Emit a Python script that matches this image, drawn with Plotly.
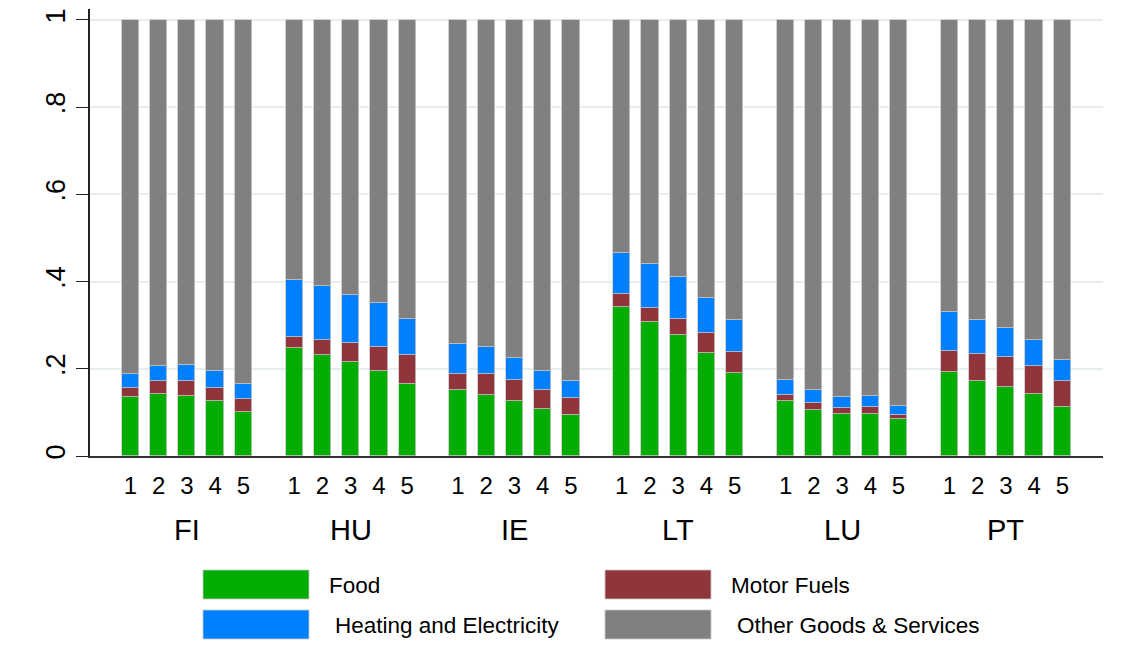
import plotly.graph_objects as go

countries = ["FI", "HU", "IE", "LT", "LU", "PT"]
quintiles = [1, 2, 3, 4, 5]

# expenditure shares by income quintile, per country (stacked from the bottom)
food = [
    [0.135, 0.142, 0.137, 0.125, 0.102],
    [0.248, 0.231, 0.216, 0.194, 0.165],
    [0.152, 0.141, 0.125, 0.107, 0.093],
    [0.341, 0.308, 0.277, 0.236, 0.190],
    [0.125, 0.106, 0.096, 0.097, 0.084],
    [0.192, 0.171, 0.159, 0.143, 0.112],
]
motor_fuels = [
    [0.022, 0.029, 0.034, 0.032, 0.029],
    [0.024, 0.034, 0.043, 0.055, 0.067],
    [0.037, 0.047, 0.049, 0.044, 0.040],
    [0.030, 0.032, 0.038, 0.045, 0.049],
    [0.015, 0.016, 0.014, 0.015, 0.010],
    [0.049, 0.063, 0.067, 0.064, 0.059],
]
heating = [
    [0.031, 0.035, 0.038, 0.038, 0.035],
    [0.132, 0.125, 0.111, 0.102, 0.082],
    [0.067, 0.061, 0.051, 0.044, 0.040],
    [0.094, 0.100, 0.095, 0.081, 0.073],
    [0.035, 0.029, 0.025, 0.025, 0.021],
    [0.090, 0.077, 0.067, 0.059, 0.048],
]

group_step = 5.8
x, ticktext = [], []
for g, c in enumerate(countries):
    for q in quintiles:
        x.append(g * group_step + q)
        ticktext.append(str(q))

def flat(rows):
    return [v for r in rows for v in r]

f, m, h = flat(food), flat(motor_fuels), flat(heating)
other = [1 - a - b - c for a, b, c in zip(f, m, h)]

series = [
    ("Food", f, "#00ad00"),
    ("Motor Fuels", m, "#90353b"),
    ("Heating and Electricity", h, "#0080ff"),
    ("Other Goods & Services", other, "#808080"),
]

fig = go.Figure()
for name, vals, col in series:
    fig.add_trace(go.Bar(
        x=x, y=vals, name=name, width=0.61,
        marker=dict(color=col, line=dict(color="rgba(200,200,200,0.8)", width=1)),
        showlegend=False,
    ))

font = "Liberation Sans, Arial, sans-serif"
fig.update_layout(
    barmode="stack",
    width=1125, height=668,
    margin=dict(l=82, r=30, t=1, b=220),
    plot_bgcolor="white", paper_bgcolor="white",
    font=dict(family=font, color="black"),
    bargap=0,
)
fig.update_xaxes(
    range=[-0.43, 35.44], tickvals=x, ticktext=ticktext,
    tickfont=dict(size=24), showgrid=False, ticks="", ticklabelstandoff=7,
    showline=True, linecolor="#333", linewidth=1.5, zeroline=False,
)
fig.update_yaxes(
    range=[0, 1.025], tickvals=[0, 0.2, 0.4, 0.6, 0.8, 1],
    ticktext=["0", ".2", ".4", ".6", ".8", "1"], tickangle=-90,
    tickfont=dict(size=27), ticks="outside", ticklen=12, tickcolor="#222",
    showline=True, linecolor="#222", linewidth=1.5,
    showgrid=True, gridcolor="#e6eef1", gridwidth=1.5, zeroline=False,
)

# plot area in page pixels (page has an 8px body margin)
PX0, PW, PY1, PH = 90, 1013, 456, 447

def px(v):
    return (v - PX0) / PW

def py(v):
    return (PY1 - v) / PH

# country labels under each group of quintiles
for g, c in enumerate(countries):
    fig.add_annotation(
        x=g * group_step + 3, y=py(530), xref="x", yref="paper",
        text=c, showarrow=False, font=dict(size=29), yanchor="middle",
    )

# legend drawn Stata-style with large swatches
legend_items = [
    ("Food", "#00ad00", 203, 570, 327),
    ("Motor Fuels", "#90353b", 605, 570, 729),
    ("Heating and Electricity", "#0080ff", 203, 610, 333),
    ("Other Goods & Services", "#808080", 605, 610, 735),
]
for label, col, sx, sy, tx in legend_items:
    fig.add_shape(
        type="rect", xref="paper", yref="paper",
        x0=px(sx), x1=px(sx + 106), y0=py(sy), y1=py(sy + 29),
        fillcolor=col, line=dict(color="rgba(200,200,200,0.8)", width=1),
    )
    fig.add_annotation(
        x=px(tx), y=py(sy + 15), xref="paper", yref="paper",
        xanchor="left", yanchor="middle",
        text=label, showarrow=False, font=dict(size=22.5),
    )

fig.write_html("out.html")
